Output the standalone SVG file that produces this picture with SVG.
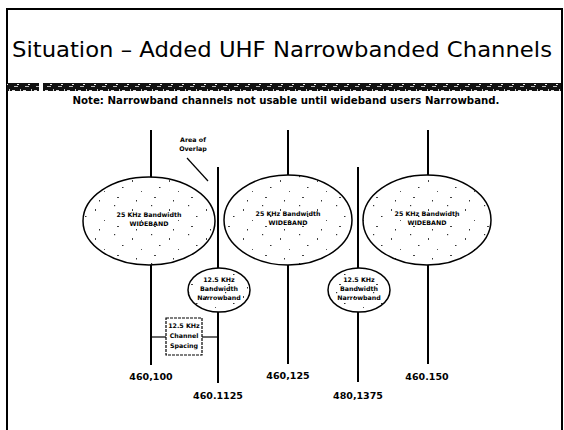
<svg xmlns="http://www.w3.org/2000/svg" width="564" height="430" viewBox="0 0 564 430">
<defs>
<style>
.ln{stroke:#000;stroke-width:2;fill:none}
.thin{stroke:#000;stroke-width:1.2;fill:none}
.bg{fill:#fff;stroke:none}
.ell{fill:url(#speck);stroke:#000;stroke-width:1.5}
.tiny{font-family:"DejaVu Sans",Verdana,sans-serif;font-size:6.3px;font-weight:bold;text-anchor:middle;fill:#000}
.freq{font-family:"DejaVu Sans",Verdana,sans-serif;font-size:9.5px;font-weight:bold;text-anchor:middle;fill:#000}
</style>
<pattern id="speck" width="37" height="29" patternUnits="userSpaceOnUse">
<rect x="3" y="2" width="1.2" height="1.2" fill="#333"/>
<rect x="21" y="6" width="1" height="2" fill="#444"/>
<rect x="11" y="13" width="1.5" height="1" fill="#333"/>
<rect x="30" y="17" width="1" height="1" fill="#555"/>
<rect x="6" y="23" width="2" height="1" fill="#444"/>
<rect x="25" y="26" width="1" height="1.5" fill="#333"/>
</pattern>
<pattern id="noise" width="11" height="8" patternUnits="userSpaceOnUse">
<rect width="11" height="8" fill="#111"/>
<rect x="1" y="2" width="3" height="1" fill="#ddd"/>
<rect x="6" y="4" width="2" height="1" fill="#eee"/>
<rect x="3" y="6" width="4" height="1" fill="#bbb"/>
<rect x="9" y="1" width="1" height="2" fill="#ccc"/>
</pattern>
</defs>
<rect width="564" height="430" fill="#fff"/>
<g id="frame">
<path d="M7 430 V9 H562 V430" stroke="#000" stroke-width="2" fill="none"/>
</g>
<g id="title">
<text x="282" y="57" font-family="'DejaVu Sans',Verdana,sans-serif" font-size="22" text-anchor="middle" textLength="540" lengthAdjust="spacingAndGlyphs">Situation – Added UHF Narrowbanded Channels</text>
</g>
<g id="noisebar">
<rect x="7" y="83" width="32" height="8" fill="url(#noise)"/>
<rect x="43" y="83" width="518" height="8" fill="url(#noise)"/>
</g>
<g id="note">
<text x="286" y="104" font-family="'DejaVu Sans',Verdana,sans-serif" font-size="10" font-weight="bold" text-anchor="middle" textLength="427" lengthAdjust="spacingAndGlyphs">Note: Narrowband channels not usable until wideband users Narrowband.</text>
</g>
<g id="connectors">
<line class="ln" x1="151" y1="130" x2="151" y2="178"/>
<line class="ln" x1="151" y1="265" x2="151" y2="365"/>
<line class="ln" x1="218" y1="167" x2="218" y2="268"/>
<line class="ln" x1="218" y1="312" x2="218" y2="383"/>
<line class="ln" x1="288" y1="130" x2="288" y2="175"/>
<line class="ln" x1="288" y1="265" x2="288" y2="364"/>
<line class="ln" x1="358" y1="167" x2="358" y2="268"/>
<line class="ln" x1="358" y1="312" x2="358" y2="382"/>
<line class="ln" x1="428" y1="130" x2="428" y2="175"/>
<line class="ln" x1="428" y1="265" x2="428" y2="364"/>
<line class="thin" x1="151" y1="337" x2="166" y2="337"/>
<line class="thin" x1="202" y1="337" x2="218" y2="337"/>
<line class="thin" x1="187" y1="158" x2="208" y2="181"/>
</g>
<g id="wide1">
<ellipse class="bg" cx="149" cy="221" rx="66" ry="44"/>
<ellipse class="ell" cx="149" cy="221" rx="66" ry="44"/>
<text class="tiny" x="149" y="217">25 KHz Bandwidth</text>
<text class="tiny" x="149" y="226">WIDEBAND</text>
</g>
<g id="wide2">
<ellipse class="bg" cx="288" cy="220" rx="64" ry="45"/>
<ellipse class="ell" cx="288" cy="220" rx="64" ry="45"/>
<text class="tiny" x="288" y="216">25 KHz Bandwidth</text>
<text class="tiny" x="288" y="225">WIDEBAND</text>
</g>
<g id="wide3">
<ellipse class="bg" cx="427" cy="220" rx="64" ry="45"/>
<ellipse class="ell" cx="427" cy="220" rx="64" ry="45"/>
<text class="tiny" x="427" y="216">25 KHz Bandwidth</text>
<text class="tiny" x="427" y="225">WIDEBAND</text>
</g>
<g id="narrow1">
<ellipse class="bg" cx="219" cy="290" rx="31" ry="22"/>
<ellipse class="ell" cx="219" cy="290" rx="31" ry="22"/>
<text class="tiny" x="219" y="282">12.5 KHz</text>
<text class="tiny" x="219" y="291">Bandwidth</text>
<text class="tiny" x="219" y="300">Narrowband</text>
</g>
<g id="narrow2">
<ellipse class="bg" cx="359" cy="290" rx="31" ry="22"/>
<ellipse class="ell" cx="359" cy="290" rx="31" ry="22"/>
<text class="tiny" x="359" y="282">12.5 KHz</text>
<text class="tiny" x="359" y="291">Bandwidth</text>
<text class="tiny" x="359" y="300">Narrowband</text>
</g>
<g id="spacing">
<rect x="166" y="318" width="36" height="37" fill="#fff" stroke="#000" stroke-width="1.2" stroke-dasharray="3 1"/>
<text class="tiny" x="184" y="328">12.5 KHz</text>
<text class="tiny" x="184" y="338">Channel</text>
<text class="tiny" x="184" y="348">Spacing</text>
</g>
<g id="overlap">
<text class="tiny" x="193" y="142">Area of</text>
<text class="tiny" x="193" y="151">Overlap</text>
</g>
<g id="freqs">
<text class="freq" x="151" y="380">460,100</text>
<text class="freq" x="218" y="399">460.1125</text>
<text class="freq" x="288" y="379">460,125</text>
<text class="freq" x="358" y="399">480,1375</text>
<text class="freq" x="427" y="380">460.150</text>
</g>
</svg>
